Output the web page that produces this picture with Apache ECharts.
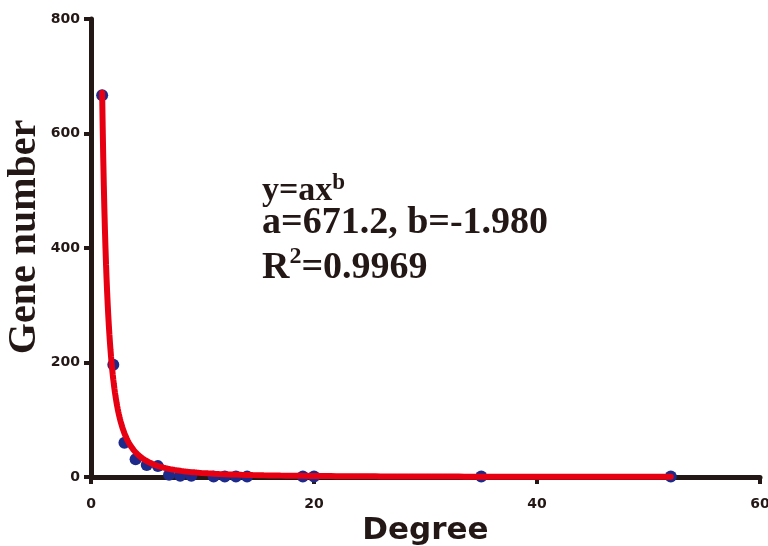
<!DOCTYPE html>
<html>
<head>
<meta charset="utf-8">
<script src="https://cdn.jsdelivr.net/npm/echarts@6/dist/echarts.min.js"></script>
<style>html,body{margin:0;padding:0;background:#fff}#c{width:768px;height:546px}</style>
</head>
<body>
<div id="c"></div>
<script>
// Observed data (degree vs gene number)
var degree = [1, 2, 3, 4, 5, 6, 7, 8, 9, 11, 12, 13, 14, 19, 20, 35, 52];
var geneNumber = [667, 196, 60, 31, 21, 19, 4, 2, 2, 1, 1, 1, 1, 1, 1, 1, 1];
// Power-law fit parameters printed on the chart: y = a * x^b
var fitA = 671.2;
var fitB = -1.980;
var fitR2 = 0.9969;
var xTicks = [0, 20, 40, 60];
var yTicks = [0, 200, 400, 600, 800];

var scatterData = degree.map(function (d, i) { return [d, geneNumber[i]]; });
var fitData = [];
for (var x = 1; x <= degree[degree.length - 1] + 1e-9; x += (x < 10 ? 0.05 : 0.5)) {
  fitData.push([x, fitA * Math.pow(x, fitB)]);
}

var dark = '#231815';
var chart = echarts.init(document.getElementById('c'));
chart.setOption({
  animation: false,
  backgroundColor: '#ffffff',
  grid: { left: 91, right: 8, top: 19, bottom: 69, containLabel: false, outerBoundsMode: 'none' },
  xAxis: {
    type: 'value', min: xTicks[0], max: xTicks[xTicks.length - 1], interval: 20,
    name: 'Degree', nameLocation: 'middle', nameGap: 37,
    nameTextStyle: { fontFamily: 'DejaVu Sans', fontWeight: 'bold', fontSize: 31, color: dark },
    axisLine: { lineStyle: { color: dark, width: 5 } },
    axisTick: { show: true, length: 7, lineStyle: { color: dark, width: 4 } },
    axisLabel: { fontFamily: 'DejaVu Sans', fontWeight: 'bold', fontSize: 14, color: dark, margin: 20 },
    splitLine: { show: false }
  },
  yAxis: {
    type: 'value', min: yTicks[0], max: yTicks[yTicks.length - 1], interval: 200,
    name: 'Gene number', nameLocation: 'middle', nameGap: 46, nameRotate: 90, nameMoveOverlap: false,
    nameTextStyle: { fontFamily: 'Liberation Serif', fontWeight: 'bold', fontSize: 40, color: dark, padding: [0, 0, 0, 22] },
    axisLine: { lineStyle: { color: dark, width: 5 } },
    axisTick: { show: true, length: 7, lineStyle: { color: dark, width: 4 } },
    axisLabel: { fontFamily: 'DejaVu Sans', fontWeight: 'bold', fontSize: 14, color: dark, margin: 11 },
    splitLine: { show: false }
  },
  series: [
    {
      type: 'scatter', data: scatterData, symbolSize: 12, z: 2,
      itemStyle: { color: '#1d2a8a', opacity: 1 }
    },
    {
      type: 'line', data: fitData, showSymbol: false, smooth: false, z: 3,
      lineStyle: { color: '#e60012', width: 6, cap: 'round' }
    }
  ],
  graphic: [
    {
      type: 'text', left: 262, top: 172,
      style: {
        text: '{m|y=ax}{s|b}',
        rich: {
          m: { fontFamily: 'Liberation Serif', fontWeight: 'bold', fontSize: 34, fill: dark, verticalAlign: 'bottom', lineHeight: 36 },
          s: { fontFamily: 'Liberation Serif', fontWeight: 'bold', fontSize: 23, fill: dark, verticalAlign: 'top', lineHeight: 36 }
        }
      }
    },
    {
      type: 'text', left: 262, top: 204,
      style: { text: 'a=' + fitA.toFixed(1) + ', b=' + fitB.toFixed(3), fontFamily: 'Liberation Serif', fontWeight: 'bold', fontSize: 38, fill: dark }
    },
    {
      type: 'text', left: 262, top: 245,
      style: {
        text: '{m|R}{s|2}{m|=' + fitR2.toFixed(4) + '}',
        rich: {
          m: { fontFamily: 'Liberation Serif', fontWeight: 'bold', fontSize: 38, fill: dark, verticalAlign: 'bottom', lineHeight: 42 },
          s: { fontFamily: 'Liberation Serif', fontWeight: 'bold', fontSize: 24, fill: dark, verticalAlign: 'top', lineHeight: 42 }
        }
      }
    }
  ]
});
</script>
</body>
</html>
